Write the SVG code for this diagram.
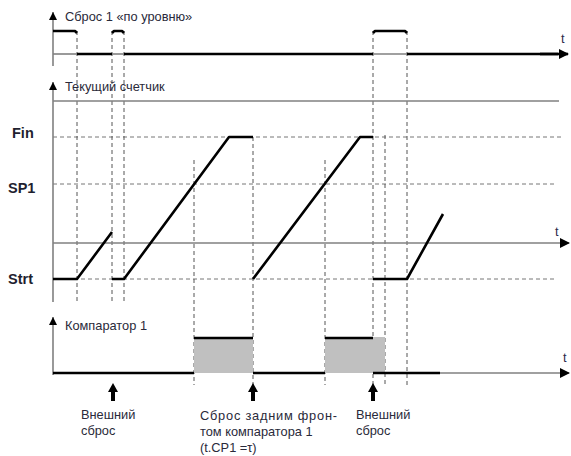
<svg xmlns="http://www.w3.org/2000/svg" width="571" height="456" viewBox="0 0 571 456">
<style>
.txt{font-family:"Liberation Sans",Arial,sans-serif;font-size:12.8px;fill:#2a2a3a}
.lbl{font-family:"Liberation Sans",Arial,sans-serif;font-size:14.5px;font-weight:bold;fill:#1f1f2f}
.t{font-family:"Liberation Sans",Arial,sans-serif;font-size:12.8px;fill:#2a2a4a}
.axis{stroke:#808080;stroke-width:1.6;fill:none}
.sig{stroke:#000;stroke-width:2.6;fill:none;stroke-linejoin:round}
.dash{stroke:#555;stroke-width:1;stroke-dasharray:4 3;fill:none}
.hdash{stroke:#777;stroke-width:1;stroke-dasharray:4 3;fill:none}
.up{fill:#000}
</style>
<defs>
<marker id="ah" viewBox="0 0 10 10" refX="9" refY="5" markerWidth="10" markerHeight="10" markerUnits="userSpaceOnUse" orient="auto">
<path d="M0,0 L10,5 L0,10 z" fill="#000"/>
</marker>
<marker id="upa" viewBox="0 0 8 8" refX="8" refY="4" markerWidth="8" markerHeight="8" markerUnits="userSpaceOnUse" orient="auto">
<path d="M0,0 L8,4 L0,8 z" fill="#000"/>
</marker>
</defs>

<g id="gridlines">
<line class="hdash" x1="53" y1="137" x2="563" y2="137"/>
<line class="hdash" x1="53" y1="184" x2="557" y2="184"/>
<line class="hdash" x1="53" y1="279" x2="557" y2="279"/>
<line class="dash" x1="77" y1="31" x2="77" y2="303"/>
<line class="dash" x1="112" y1="31" x2="112" y2="303"/>
<line class="dash" x1="124" y1="31" x2="124" y2="303"/>
<line class="dash" x1="194" y1="160" x2="194" y2="385"/>
<line class="dash" x1="253" y1="137" x2="253" y2="385"/>
<line class="dash" x1="325" y1="160" x2="325" y2="385"/>
<line class="dash" x1="373" y1="31" x2="373" y2="385"/>
<line class="dash" x1="385" y1="135" x2="385" y2="385"/>
<line class="dash" x1="407" y1="31" x2="407" y2="385"/>
</g>

<g id="panel-reset">
<line class="axis" x1="53" y1="66" x2="53" y2="12" marker-end="url(#upa)"/>
<line class="axis" x1="53" y1="54" x2="77" y2="54"/>
<line class="axis" x1="112" y1="54" x2="124" y2="54"/>
<line class="axis" x1="373" y1="54" x2="407" y2="54"/>
<line class="sig" x1="540" y1="54" x2="568" y2="54" marker-end="url(#ah)"/>
<polyline class="sig" points="53,31 75,31 77,33"/>
<polyline class="sig" points="112,33 114,31 122,31 124,33"/>
<polyline class="sig" points="373,33 375,31 405,31 407,33"/>
<line class="sig" x1="77" y1="54" x2="112" y2="54"/>
<line class="sig" x1="124" y1="54" x2="373" y2="54"/>
<line class="sig" x1="407" y1="54" x2="558" y2="54"/>
<text class="txt" x="65" y="21">Сброс 1 «по уровню»</text>
<text class="t" x="561" y="43">t</text>
</g>

<g id="panel-counter">
<line class="axis" x1="53" y1="302" x2="53" y2="82" marker-end="url(#upa)"/>
<line class="axis" x1="53" y1="101" x2="559" y2="101"/>
<line class="axis" x1="53" y1="243" x2="569" y2="243" marker-end="url(#ah)"/>
<polyline class="sig" points="53,279 77,279 112,232"/>
<polyline class="sig" points="112,279 124,279 229,137 253,137"/>
<polyline class="sig" points="253,279 360,137 373,137"/>
<polyline class="sig" points="373,279 407,279 443,214"/>
<text class="txt" x="65" y="91">Текущий счетчик</text>
<text class="lbl" x="12" y="138">Fin</text>
<text class="lbl" x="8" y="193">SP1</text>
<text class="lbl" x="8" y="284">Strt</text>
<text class="t" x="555" y="236">t</text>
</g>

<g id="panel-comparator">
<rect x="194" y="338" width="59" height="35" fill="#c0c0c0"/>
<rect x="325" y="337" width="60" height="36" fill="#c0c0c0"/>
<line class="axis" x1="53" y1="375" x2="53" y2="317" marker-end="url(#upa)"/>
<line class="axis" x1="440" y1="373" x2="569" y2="373" marker-end="url(#ah)"/>
<polyline class="sig" points="53,373 194,373"/>
<polyline class="sig" points="194,338 253,338"/>
<polyline class="sig" points="253,373 325,373"/>
<polyline class="sig" points="325,338 373,338"/>
<polyline class="sig" points="373,373 440,373"/>
<text class="txt" x="65" y="330">Компаратор 1</text>
<text class="t" x="563" y="362">t</text>
</g>

<g id="events">
<path class="up" d="M113,383 L118,392 L115,392 L115,401 L111,401 L111,392 L108,392 z"/>
<path class="up" d="M253,383 L258,392 L255,392 L255,401 L251,401 L251,392 L248,392 z"/>
<path class="up" d="M373,383 L378,392 L375,392 L375,401 L371,401 L371,392 L368,392 z"/>
<text class="txt" x="81" y="419">Внешний</text>
<text class="txt" x="81" y="435">сброс</text>
<text class="txt" x="200" y="420" textLength="137" lengthAdjust="spacing">Сброс  задним  фрон-</text>
<text class="txt" x="200" y="436">том компаратора 1</text>
<text class="txt" x="200" y="452">(t.CP1 =τ)</text>
<text class="txt" x="356" y="419">Внешний</text>
<text class="txt" x="356" y="435">сброс</text>
</g>
</svg>
